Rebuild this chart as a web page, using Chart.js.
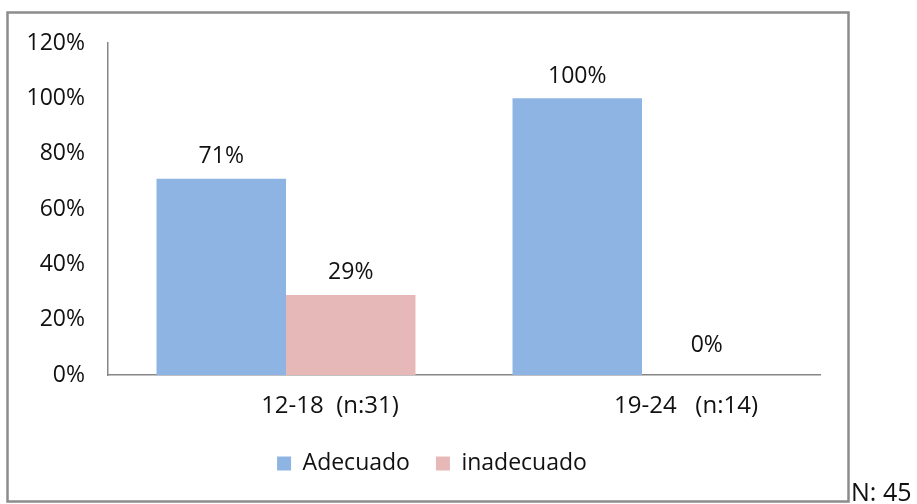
<!DOCTYPE html>
<html>
<head>
<meta charset="utf-8">
<script src="https://cdn.jsdelivr.net/npm/chart.js@4/dist/chart.umd.min.js"></script>
<style>
  html, body { margin: 0; padding: 0; background: #fff; }
  #wrap { width: 917px; height: 504px; }
</style>
</head>
<body>
<div id="wrap"><canvas id="c" width="917" height="504"></canvas></div>
<script>
const categories = ['12-18  (n:31)', '19-24   (n:14)'];
const seriesNames = ['Adecuado', 'inadecuado'];
const adecuado = [71, 100];
const inadecuado = [29, 0];
const yTicks = [0, 20, 40, 60, 80, 100, 120];
const totalNote = 'N: 45';

const FONT = "'Open Sans', 'Liberation Sans', sans-serif";
const TEXT = '#111';

// etiquetas de valor encima de cada barra
const valueLabels = {
  id: 'valueLabels',
  afterDatasetsDraw(chart) {
    const ctx = chart.ctx;
    ctx.save();
    ctx.font = `23px ${FONT}`;
    ctx.fillStyle = TEXT;
    ctx.textAlign = 'center';
    ctx.textBaseline = 'middle';
    chart.data.datasets.forEach((ds, i) => {
      chart.getDatasetMeta(i).data.forEach((bar, j) => {
        const off = ds.data[j] === 0 ? 30 : 22;
        ctx.fillText(ds.data[j] + '%', bar.x, bar.y - off);
      });
    });
    ctx.restore();
  }
};

// marco y nota N
const frame = {
  id: 'frame',
  afterDraw(chart) {
    const ctx = chart.ctx;
    ctx.save();
    ctx.strokeStyle = '#8c8c8c';
    ctx.lineWidth = 2.5;
    ctx.strokeRect(7.5, 12.5, 841, 489);
    ctx.font = `25px ${FONT}`;
    ctx.fillStyle = TEXT;
    ctx.textAlign = 'left';
    ctx.textBaseline = 'alphabetic';
    ctx.fillText(totalNote, 851, 501);
    ctx.restore();
  }
};

new Chart(document.getElementById('c'), {
  type: 'bar',
  data: {
    labels: categories,
    datasets: [
      { label: seriesNames[0], data: adecuado, backgroundColor: '#8eb4e3' },
      { label: seriesNames[1], data: inadecuado, backgroundColor: '#e6b9b8' },
    ],
  },
  options: {
    responsive: false,
    animation: false,
    devicePixelRatio: 1,
    layout: { padding: { left: 0, top: 43, right: 53, bottom: 19 } },
    datasets: { bar: { categoryPercentage: 0.7275, barPercentage: 1 } },
    plugins: {
      legend: {
        position: 'bottom',
        labels: {
          font: { family: FONT, size: 23 },
          color: TEXT,
          boxWidth: 14,
          boxHeight: 14,
          padding: 26,
        },
      },
      tooltip: { enabled: false },
    },
    scales: {
      x: {
        afterFit: s => { s.height -= 12; },
        grid: { display: false, drawTicks: false },
        border: { color: '#868686', width: 1.5 },
        ticks: {
          font: { family: FONT, size: 24 },
          color: TEXT,
          padding: 17,
          labelOffset: 44,
          maxRotation: 0,
        },
      },
      y: {
        min: 0,
        max: 120,
        afterBuildTicks: s => { s.ticks = yTicks.map(v => ({ value: v })); },
        afterFit: s => { s.width = 108; },
        grid: { display: false, drawTicks: false },
        border: { color: '#868686', width: 1.5 },
        ticks: {
          font: { family: FONT, size: 23 },
          color: TEXT,
          padding: 23,
          callback: v => v + '%',
        },
      },
      // eje vacío a la derecha sólo para reservar espacio
      spacer: {
        position: 'right',
        afterFit: s => { s.width = 44; },
        grid: { display: false, drawTicks: false },
        border: { display: false },
        ticks: { display: false },
      },
    },
  },
  plugins: [valueLabels, frame],
});
</script>
</body>
</html>
